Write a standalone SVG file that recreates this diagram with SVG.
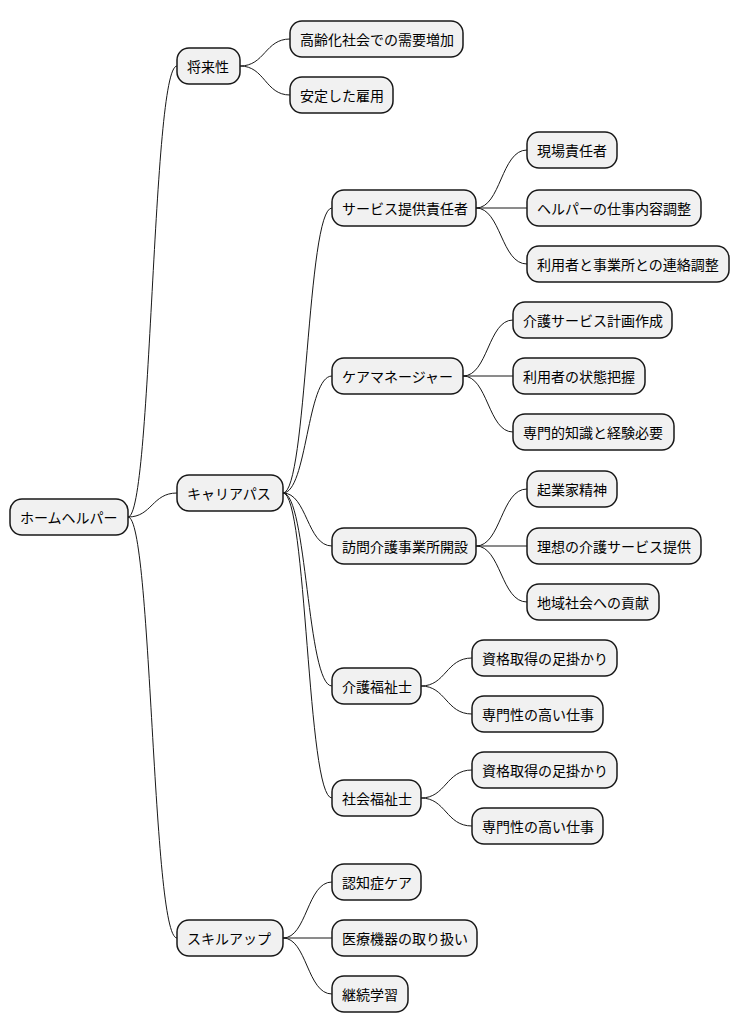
<svg xmlns="http://www.w3.org/2000/svg" width="740" height="1034" viewBox="0 0 740 1034">
<style>
.n rect{fill:#F1F1F1;stroke:#181818;stroke-width:1.5}
.n text{font-family:"Noto Sans CJK JP","Noto Sans",sans-serif;font-size:14px;fill:#000;dominant-baseline:central}
#edges path{fill:none;stroke:#181818;stroke-width:1}
</style>
<rect width="740" height="1034" fill="#fff"/>
<g id="edges">
<path d="M128,517 C152,517 152,66 177,66"/>
<path d="M128,517 C152,517 152,493 177,493"/>
<path d="M128,517 C152,517 152,938 177,938"/>
<path d="M240,66 C265,66 265,39 290,39"/>
<path d="M240,66 C265,66 265,95 290,95"/>
<path d="M283,493 C307,493 307,208 332,208"/>
<path d="M283,493 C307,493 307,376 332,376"/>
<path d="M283,493 C307,493 307,546 332,546"/>
<path d="M283,493 C307,493 307,686 332,686"/>
<path d="M283,493 C307,493 307,798 332,798"/>
<path d="M476,208 C501,208 501,150 527,150"/>
<path d="M476,208 L527,208"/>
<path d="M476,208 C501,208 501,264 527,264"/>
<path d="M463,376 C488,376 488,320 513,320"/>
<path d="M463,376 L513,376"/>
<path d="M463,376 C488,376 488,432 513,432"/>
<path d="M476,546 C501,546 501,489 527,489"/>
<path d="M476,546 L527,546"/>
<path d="M476,546 C501,546 501,602 527,602"/>
<path d="M421,686 C446,686 446,658 472,658"/>
<path d="M421,686 C446,686 446,714 472,714"/>
<path d="M421,798 C446,798 446,770 472,770"/>
<path d="M421,798 C446,798 446,826 472,826"/>
<path d="M283,938 C307,938 307,882 332,882"/>
<path d="M283,938 L332,938"/>
<path d="M283,938 C307,938 307,994 332,994"/>
</g>
<g id="root" class="n"><rect x="10" y="499" width="118" height="36" rx="12"/><text x="20" y="517">ホームヘルパー</text></g>
<g id="n1" class="n"><rect x="177" y="48" width="63" height="36" rx="12"/><text x="187" y="66">将来性</text></g>
<g id="n1a" class="n"><rect x="290" y="21" width="173" height="36" rx="12"/><text x="300" y="39">高齢化社会での需要増加</text></g>
<g id="n1b" class="n"><rect x="290" y="77" width="103" height="36" rx="12"/><text x="300" y="95">安定した雇用</text></g>
<g id="n2" class="n"><rect x="177" y="475" width="106" height="36" rx="12"/><text x="187" y="493">キャリアパス</text></g>
<g id="n2a" class="n"><rect x="332" y="190" width="144" height="36" rx="12"/><text x="342" y="208">サービス提供責任者</text></g>
<g id="n2a1" class="n"><rect x="527" y="132" width="90" height="36" rx="12"/><text x="537" y="150">現場責任者</text></g>
<g id="n2a2" class="n"><rect x="527" y="190" width="174" height="36" rx="12"/><text x="537" y="208">ヘルパーの仕事内容調整</text></g>
<g id="n2a3" class="n"><rect x="527" y="246" width="202" height="36" rx="12"/><text x="537" y="264">利用者と事業所との連絡調整</text></g>
<g id="n2b" class="n"><rect x="332" y="358" width="131" height="36" rx="12"/><text x="342" y="376">ケアマネージャー</text></g>
<g id="n2b1" class="n"><rect x="513" y="302" width="159" height="36" rx="12"/><text x="523" y="320">介護サービス計画作成</text></g>
<g id="n2b2" class="n"><rect x="513" y="358" width="132" height="36" rx="12"/><text x="523" y="376">利用者の状態把握</text></g>
<g id="n2b3" class="n"><rect x="513" y="414" width="161" height="36" rx="12"/><text x="523" y="432">専門的知識と経験必要</text></g>
<g id="n2c" class="n"><rect x="332" y="528" width="144" height="36" rx="12"/><text x="342" y="546">訪問介護事業所開設</text></g>
<g id="n2c1" class="n"><rect x="527" y="471" width="90" height="36" rx="12"/><text x="537" y="489">起業家精神</text></g>
<g id="n2c2" class="n"><rect x="527" y="528" width="174" height="36" rx="12"/><text x="537" y="546">理想の介護サービス提供</text></g>
<g id="n2c3" class="n"><rect x="527" y="584" width="132" height="36" rx="12"/><text x="537" y="602">地域社会への貢献</text></g>
<g id="n2d" class="n"><rect x="332" y="668" width="89" height="36" rx="12"/><text x="342" y="686">介護福祉士</text></g>
<g id="n2d1" class="n"><rect x="472" y="640" width="145" height="36" rx="12"/><text x="482" y="658">資格取得の足掛かり</text></g>
<g id="n2d2" class="n"><rect x="472" y="696" width="131" height="36" rx="12"/><text x="482" y="714">専門性の高い仕事</text></g>
<g id="n2e" class="n"><rect x="332" y="780" width="89" height="36" rx="12"/><text x="342" y="798">社会福祉士</text></g>
<g id="n2e1" class="n"><rect x="472" y="752" width="145" height="36" rx="12"/><text x="482" y="770">資格取得の足掛かり</text></g>
<g id="n2e2" class="n"><rect x="472" y="808" width="131" height="36" rx="12"/><text x="482" y="826">専門性の高い仕事</text></g>
<g id="n3" class="n"><rect x="177" y="920" width="106" height="36" rx="12"/><text x="187" y="938">スキルアップ</text></g>
<g id="n3a" class="n"><rect x="332" y="864" width="89" height="36" rx="12"/><text x="342" y="882">認知症ケア</text></g>
<g id="n3b" class="n"><rect x="332" y="920" width="145" height="36" rx="12"/><text x="342" y="938">医療機器の取り扱い</text></g>
<g id="n3c" class="n"><rect x="332" y="976" width="76" height="36" rx="12"/><text x="342" y="994">継続学習</text></g>
</svg>
